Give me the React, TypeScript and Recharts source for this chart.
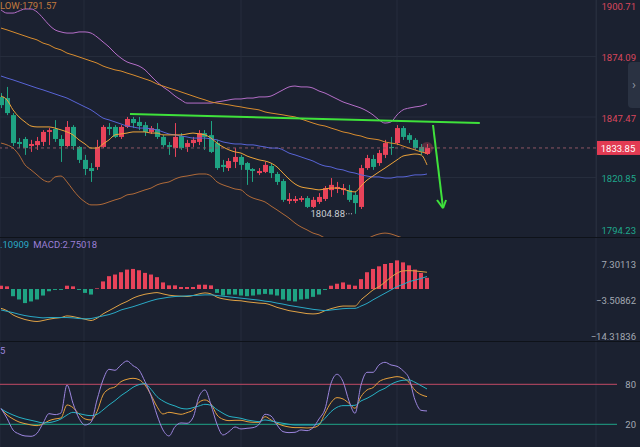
import React from 'react';
import {
  ComposedChart,
  Line,
  Bar,
  XAxis,
  YAxis,
  CartesianGrid,
  ReferenceLine,
  ReferenceDot,
  Cell,
} from 'recharts';

// ---------- data ----------
const open = [1856.3, 1855.8, 1848.3, 1836.5, 1837.8, 1834.7, 1835.1, 1836.5, 1840.9, 1842.2,
  1837.8, 1834.7, 1843.1, 1834.3, 1828.6, 1825.0, 1825.5, 1834.3, 1843.1, 1843.1,
  1838.7, 1843.1, 1846.6, 1845.3, 1843.9, 1840.9, 1842.2, 1838.7, 1835.1, 1833.8,
  1839.1, 1834.3, 1836.0, 1836.5, 1840.4, 1839.5, 1836.0, 1826.4, 1825.0, 1827.7,
  1829.9, 1827.2, 1824.6, 1822.8, 1823.3, 1825.9, 1822.4, 1819.3, 1810.5, 1810.5,
  1811.0, 1811.8, 1807.9, 1810.1, 1811.4, 1815.3, 1815.8, 1815.3, 1815.3, 1813.2,
  1807.9, 1825.0, 1829.0, 1827.2, 1830.8, 1834.3, 1836.0, 1842.6, 1839.5, 1837.4,
  1834.3, 1831.2];
const close = [1852.7, 1849.2, 1836.0, 1835.6, 1833.8, 1835.6, 1836.9, 1840.9, 1841.7, 1837.8,
  1834.7, 1843.1, 1834.7, 1828.6, 1824.6, 1823.7, 1834.3, 1843.1, 1842.2, 1838.7,
  1843.1, 1846.6, 1844.8, 1843.5, 1840.9, 1842.6, 1838.7, 1835.1, 1834.3, 1838.7,
  1833.8, 1836.0, 1837.4, 1840.4, 1838.7, 1832.1, 1825.0, 1825.5, 1828.1, 1829.9,
  1826.4, 1824.2, 1823.7, 1823.7, 1826.4, 1822.8, 1818.9, 1811.0, 1811.4, 1811.4,
  1811.8, 1807.9, 1811.0, 1812.3, 1816.2, 1817.6, 1816.7, 1816.2, 1811.0, 1809.6,
  1825.0, 1829.4, 1825.5, 1831.6, 1836.0, 1833.8, 1842.6, 1838.7, 1837.4, 1833.8,
  1832.1, 1833.85];
const high = [1858.0, 1860.7, 1849.2, 1838.2, 1838.7, 1837.4, 1838.7, 1841.7, 1842.6, 1846.1,
  1839.5, 1845.7, 1843.9, 1834.7, 1830.8, 1827.2, 1837.4, 1843.9, 1844.8, 1843.9,
  1843.9, 1847.5, 1847.5, 1847.5, 1845.3, 1843.5, 1844.8, 1839.5, 1836.5, 1844.8,
  1840.4, 1837.4, 1838.7, 1841.7, 1841.7, 1845.7, 1837.4, 1828.6, 1829.4, 1833.8,
  1830.8, 1827.7, 1825.0, 1825.0, 1827.7, 1827.2, 1823.3, 1820.2, 1814.0, 1812.7,
  1812.7, 1812.7, 1812.3, 1814.0, 1817.1, 1820.6, 1818.9, 1818.0, 1817.6, 1814.5,
  1826.4, 1830.8, 1830.8, 1833.0, 1837.4, 1838.7, 1843.9, 1843.5, 1840.4, 1838.2,
  1835.6, 1835.6];
const low = [1851.4, 1848.3, 1834.7, 1833.8, 1830.8, 1832.1, 1833.0, 1834.7, 1835.1, 1836.5,
  1827.7, 1834.3, 1833.0, 1827.2, 1821.9, 1818.9, 1824.2, 1833.8, 1839.5, 1838.2,
  1837.8, 1842.6, 1842.6, 1841.7, 1839.1, 1840.0, 1837.8, 1834.3, 1830.8, 1829.9,
  1833.0, 1832.1, 1834.3, 1835.1, 1833.0, 1831.6, 1824.2, 1823.3, 1823.7, 1825.0,
  1824.2, 1817.6, 1818.9, 1821.9, 1822.8, 1820.6, 1817.6, 1810.1, 1809.2, 1809.6,
  1810.1, 1807.4, 1807.4, 1809.2, 1810.5, 1812.3, 1814.0, 1813.2, 1810.1, 1804.88,
  1807.0, 1824.2, 1824.2, 1826.0, 1829.4, 1830.8, 1835.1, 1837.4, 1836.0, 1833.0,
  1830.8, 1830.8];

const bollUpper = [1894.6, 1893.2, 1893.2, 1894.1, 1895.0, 1895.0, 1893.7, 1891.0, 1888.0, 1885.8,
  1884.9, 1884.4, 1884.4, 1884.9, 1884.9, 1884.4, 1882.7, 1880.5, 1878.3, 1875.6,
  1873.4, 1871.7, 1870.8, 1869.9, 1868.2, 1865.5, 1862.9, 1860.7, 1858.9, 1856.7,
  1855.0, 1853.6, 1853.6, 1853.6, 1853.6, 1853.6, 1854.1, 1854.5, 1855.0, 1855.4,
  1855.4, 1855.8, 1855.8, 1856.3, 1856.3, 1856.7, 1858.0, 1859.4, 1860.7, 1861.1,
  1860.7, 1860.7, 1860.2, 1858.9, 1858.0, 1856.7, 1855.4, 1854.1, 1853.2, 1852.3,
  1851.4, 1850.1, 1848.4, 1846.2, 1844.8, 1845.3, 1848.4, 1850.6, 1851.4, 1851.9,
  1852.3, 1853.2];
const bollMid = [1865.5, 1864.6, 1863.8, 1862.9, 1862.0, 1861.1, 1860.2, 1859.4, 1858.5, 1857.6,
  1856.7, 1855.8, 1854.5, 1853.2, 1851.9, 1850.6, 1848.8, 1847.0, 1846.2, 1845.3,
  1844.4, 1843.5, 1843.1, 1842.6, 1842.6, 1842.2, 1841.8, 1840.9, 1840.0, 1839.6,
  1839.1, 1838.7, 1838.2, 1838.2, 1838.2, 1837.8, 1837.4, 1836.5, 1836.0, 1835.6,
  1835.6, 1835.2, 1835.2, 1834.7, 1834.3, 1833.8, 1833.8, 1833.0, 1831.6, 1830.8,
  1829.9, 1829.0, 1828.1, 1826.8, 1825.9, 1825.5, 1824.6, 1824.2, 1823.3, 1822.8,
  1822.0, 1821.5, 1821.1, 1821.1, 1820.6, 1820.6, 1821.1, 1821.1, 1821.5, 1822.0,
  1822.0, 1822.4];
const bollLower = [1836.0, 1835.2, 1833.8, 1830.8, 1826.4, 1824.2, 1822.0, 1819.8, 1818.9, 1821.1,
  1821.5, 1818.9, 1815.4, 1812.3, 1810.1, 1808.8, 1808.8, 1809.2, 1810.1, 1811.0,
  1811.8, 1813.2, 1813.6, 1814.5, 1815.4, 1816.2, 1817.6, 1818.4, 1818.9, 1820.2,
  1821.1, 1821.5, 1822.0, 1822.4, 1822.4, 1821.5, 1818.9, 1817.6, 1816.7, 1815.8,
  1815.4, 1813.2, 1811.8, 1811.0, 1810.1, 1808.3, 1806.6, 1804.8, 1803.0, 1800.8,
  1799.1, 1797.8, 1796.4, 1795.6, 1794.2, 1793.4, 1792.5, 1792.0, 1791.6, 1791.6,
  1792.5, 1793.8, 1795.1, 1796.0, 1796.4, 1796.0, 1795.1, 1794.2, 1793.4, 1792.5,
  1792.0, 1791.57];
const maFast = [1856.7, 1855.0, 1850.6, 1847.5, 1845.3, 1843.5, 1843.1, 1843.1, 1843.1, 1842.6,
  1841.8, 1840.9, 1839.6, 1837.4, 1835.6, 1833.8, 1833.8, 1835.6, 1837.4, 1839.6,
  1840.0, 1840.4, 1840.9, 1840.9, 1840.9, 1840.4, 1840.4, 1839.6, 1839.6, 1839.6,
  1839.6, 1840.0, 1840.4, 1840.0, 1839.6, 1838.2, 1836.0, 1834.3, 1833.0, 1832.1,
  1831.6, 1830.3, 1829.4, 1828.6, 1828.1, 1827.2, 1825.5, 1822.8, 1820.2, 1818.0,
  1816.7, 1816.2, 1815.8, 1815.4, 1815.8, 1816.2, 1816.2, 1815.8, 1814.9, 1814.5,
  1817.1, 1819.7, 1821.5, 1823.3, 1825.0, 1826.8, 1828.6, 1830.3, 1830.8, 1831.2,
  1830.8, 1826.4];
const maSlow = [1886.6, 1885.8, 1884.9, 1884.0, 1883.1, 1882.2, 1881.4, 1880.0, 1879.2, 1877.8,
  1877.0, 1875.6, 1874.8, 1873.9, 1873.0, 1872.1, 1871.2, 1869.9, 1869.0, 1868.2,
  1867.7, 1866.8, 1866.0, 1865.1, 1864.2, 1863.3, 1862.0, 1861.1, 1860.2, 1859.4,
  1858.5, 1857.6, 1856.7, 1855.8, 1855.0, 1854.1, 1853.6, 1853.2, 1852.8, 1852.3,
  1851.9, 1851.4, 1851.0, 1850.6, 1849.7, 1849.2, 1848.8, 1848.4, 1847.9, 1847.5,
  1846.6, 1845.7, 1844.8, 1844.0, 1843.5, 1842.6, 1841.8, 1840.9, 1840.4, 1839.6,
  1839.1, 1838.2, 1837.8, 1837.4, 1836.5, 1836.0, 1835.6, 1834.7, 1833.8, 1833.0,
  1832.1, 1831.6];

const dif = [-5.9, -6.6, -7.9, -8.7, -9.3, -9.7, -9.9, -9.6, -9.2, -8.9,
  -8.7, -8.2, -8.4, -8.8, -9.2, -9.6, -8.9, -7.6, -6.6, -5.6,
  -4.6, -3.8, -2.8, -2.1, -1.6, -1.3, -1.1, -1.5, -1.9, -2.1,
  -2.2, -2.3, -2.0, -1.5, -1.2, -1.5, -2.5, -3.0, -3.3, -3.5,
  -3.6, -3.9, -4.1, -4.3, -4.4, -4.9, -5.6, -6.1, -6.6, -6.9,
  -7.2, -7.5, -7.6, -7.4, -6.6, -6.0, -5.5, -5.2, -5.2, -5.2,
  -3.3, -1.8, -0.3, 0.7, 2.1, 3.6, 4.8, 5.5, 5.6, 5.5,
  5.3, 5.1];
const dea = [-6.4, -6.8, -7.2, -7.7, -8.1, -8.4, -8.6, -8.8, -8.7, -8.7,
  -8.7, -8.7, -8.8, -9.0, -9.1, -9.0, -8.6, -8.2, -7.8, -7.2,
  -6.4, -5.9, -5.4, -4.8, -4.2, -3.6, -3.1, -2.8, -2.5, -2.3,
  -2.2, -2.1, -2.0, -1.9, -1.8, -1.8, -2.0, -2.2, -2.4, -2.6,
  -2.8, -3.0, -3.2, -3.4, -3.7, -3.9, -4.3, -4.6, -5.0, -5.3,
  -5.6, -5.9, -6.2, -6.4, -6.6, -6.4, -6.2, -6.0, -5.9, -5.9,
  -5.2, -4.4, -3.3, -2.3, -1.3, -0.3, 0.7, 1.4, 2.2, 2.7,
  3.2, 3.8];
const macdHist = [1.0, 0.8, -2.2, -3.2, -4.3, -3.8, -3.2, -2.0, -0.7, -0.3,
  -0.3, 1.0, 0.8, -0.3, -1.2, -1.7, 0.2, 2.3, 3.9, 4.4,
  5.1, 5.9, 6.1, 5.7, 4.9, 4.4, 3.6, 2.0, 1.1, 1.1,
  0.6, 0.6, 0.6, 1.3, 1.3, 1.1, -1.2, -2.0, -1.7, -1.7,
  -2.0, -2.2, -2.0, -1.7, -1.5, -1.7, -2.0, -3.2, -3.6, -3.8,
  -3.2, -3.0, -2.4, -1.7, -0.3, 1.0, 1.6, 2.0, 1.3, 1.0,
  3.0, 5.1, 6.1, 6.9, 7.6, 7.9, 8.7, 8.1, 7.2, 5.9,
  4.9, 3.4];

const kdjK = [43, 34, 28, 23.5, 21, 19, 18, 20.5, 25.5, 28,
  29.5, 49, 45, 35.5, 28, 26.5, 39, 64, 73, 76,
  84, 87.5, 89, 87, 79, 64, 46.5, 35.5, 38, 36.5,
  35, 37.5, 41.5, 53, 56.5, 50.5, 34, 27.5, 25.5, 26,
  26, 24, 23, 23, 31.5, 26.5, 21.5, 18, 16, 15,
  15, 14.5, 15, 19, 36.5, 52.5, 60, 58, 51.5, 44,
  61.5, 71.5, 75, 84, 88, 90, 91.5, 89.5, 83, 71,
  64.5, 61.5];
const kdjD = [43, 38, 34, 30.5, 28, 26, 24, 22, 22.5, 24.5,
  28, 34, 38, 36, 34, 33, 35, 41.5, 49, 55.5,
  63, 69, 75.5, 79.5, 81, 72.5, 61.5, 55, 50.5, 47.5,
  44, 43, 45, 47.5, 50, 48.5, 42, 36.5, 32, 30.5,
  29, 26.5, 25, 24, 26.5, 25, 23, 21.5, 20, 19,
  19, 19, 19, 21, 29, 39, 45.5, 48, 48, 48.5,
  55, 59, 64, 70, 74, 80, 84, 86, 86.5, 83,
  78, 73];
const kdjJ = [44, 29, 11.5, 5.5, 2.5, 2, 6.5, 21.5, 36, 34.5,
  37, 79, 51.5, 29, 19, 23, 56.5, 86.5, 102.5, 101,
  109, 115, 108, 101.5, 84, 63, 34, 11.5, 2.5, 16.5,
  22, 21.5, 30, 61.5, 71.5, 49, 20, 4, 9, 16,
  13, 14, 15, 20, 35, 32.5, 19, 9, 7.5, 8,
  11.5, 10.5, 15, 28, 43, 81.5, 95, 84, 55, 36.5,
  79, 98, 98, 109, 113, 109, 107, 100.5, 89, 56.5,
  41, 40];

const priceTicks = [1794.23, 1820.85, 1847.47, 1874.09, 1900.71];
const currentPrice = 1833.85;
const lowMark = { i: 59, price: 1804.88 };
const macdTicks = [-14.31836, -3.50862, 7.30113];
const macdHeader = { dea: '.10909', macd: 'MACD:2.75018' };
const kdjHeader = '5';
const kdjLevels = [20, 80];
const timeGrid = [13.83, 40, 66];
const resistance = [{ x: 21.5, y: 1848.8 }, { x: 79.8, y: 1844.8 }];
const arrowShaft = [{ x: 72.0, y: 1843.95 }, { x: 73.67, y: 1807.4 }];
const arrowLeft = [{ x: 72.67, y: 1810.95 }, { x: 73.67, y: 1807.4 }];
const arrowRight = [{ x: 74.17, y: 1810.95 }, { x: 73.67, y: 1807.4 }];

// ---------- style ----------
const BG = '#1b2130';
const GRID = '#262d3c';
const UP = '#e8435a';
const DOWN = '#1fa383';
const FONT = 'Roboto, "Noto Sans", sans-serif';
const X_DOMAIN: [number, number] = [-1 / 6, 99 + 1 / 6];

const rows = open.map((o, i) => ({
  i,
  range: [low[i], high[i]],
  open: o,
  close: close[i],
  high: high[i],
  low: low[i],
  upper: bollUpper[i],
  mid: bollMid[i],
  lower: bollLower[i],
  fast: maFast[i],
  slow: maSlow[i],
  dif: dif[i],
  dea: dea[i],
  hist: macdHist[i],
  k: kdjK[i],
  d: kdjD[i],
  j: kdjJ[i],
}));

const Candle = (props: any) => {
  const { x, y, width, height, payload } = props;
  if (x == null || y == null) return null;
  const top = Math.min(y, y + height);
  const h = Math.abs(height);
  const span = payload.high - payload.low;
  const toY = (v: number) => top + (span === 0 ? 0 : ((payload.high - v) / span) * h);
  const up = payload.close >= payload.open;
  const color = up ? UP : DOWN;
  const cx = Math.round(x + width / 2) + 0.5;
  const bTop = toY(Math.max(payload.open, payload.close));
  const bBot = toY(Math.min(payload.open, payload.close));
  return (
    <g>
      <line x1={cx} x2={cx} y1={top} y2={top + h} stroke={color} strokeWidth={1} />
      <rect x={cx - 2.5} y={bTop} width={5} height={Math.max(1, bBot - bTop)} fill={color} />
    </g>
  );
};

const PriceTick = (props: any) => {
  const { y, payload } = props;
  const v = payload.value as number;
  const yy = Math.min(Math.max(y + 1, 10), 234);
  return (
    <text x={636} y={yy} textAnchor="end" dominantBaseline="central"
      fill={v > currentPrice ? '#d9475d' : '#1fa88c'} fontSize={9.5} fontFamily={FONT}>
      {v.toFixed(2)}
    </text>
  );
};

const GrayTick = (props: any) => {
  const { y, payload } = props;
  const v = payload.value as number;
  const txt = Number.isInteger(v) ? String(v) : v.toFixed(5);
  return (
    <text x={636} y={y} textAnchor="end" dominantBaseline="central"
      fill="#a3a9b3" fontSize={9.5} fontFamily={FONT}>
      {txt.replace('-', '\u2212')}
    </text>
  );
};

const PriceTag = (props: any) => {
  const vb = props.viewBox || {};
  const y = vb.y ?? 0;
  const x = (vb.x ?? 0) + (vb.width ?? 596);
  return (
    <g>
      <rect x={x} y={y - 7} width={44} height={14} fill="#e23b53" />
      <text x={x + 22} y={y + 0.5} textAnchor="middle" dominantBaseline="central" fill="#ffffff"
        fontSize={9.5} fontFamily={FONT}>{currentPrice.toFixed(2)}</text>
    </g>
  );
};

const LowLabel = (props: any) => {
  const { cx, cy } = props;
  if (cx == null) return null;
  return (
    <g>
      <line x1={cx - 9} x2={cx - 2} y1={cy} y2={cy} stroke="#b9bec6" strokeWidth={1} strokeDasharray="1 1.5" />
      <text x={cx - 10} y={cy} textAnchor="end" dominantBaseline="central" fill="#c9cdd3"
        fontSize={9.5} fontFamily={FONT}>{lowMark.price.toFixed(2)}</text>
    </g>
  );
};

const Glow = (props: any) => {
  const { cx, cy } = props;
  if (cx == null) return null;
  return <circle cx={cx} cy={cy} r={6} fill="rgba(240,80,100,0.28)" />;
};

const noMargin = { top: 0, right: 0, bottom: 0, left: 0 };

export default function App() {
  return (
    <div style={{ position: 'absolute', left: 0, top: 0, width: 640, height: 447, background: BG, overflow: 'hidden', fontFamily: FONT }}>
      {/* main price panel */}
      <div style={{ position: 'absolute', left: 0, top: -4 }}>
        <ComposedChart width={640} height={242} data={rows} margin={noMargin}>
          <CartesianGrid stroke={GRID} />
          <XAxis type="number" dataKey="i" domain={X_DOMAIN} ticks={timeGrid} hide allowDataOverflow />
          <YAxis orientation="right" width={44} domain={[priceTicks[0], priceTicks[4]]} ticks={priceTicks}
            allowDataOverflow axisLine={false} tickLine={false} interval={0} tick={<PriceTick />} />
          <ReferenceLine y={currentPrice} stroke="#8e5563" strokeDasharray="3 3" label={<PriceTag />} />
          <Line dataKey="upper" stroke="#b56ec8" strokeWidth={1} dot={false} type="monotone" isAnimationActive={false} />
          <Line dataKey="lower" stroke="#b06a38" strokeWidth={1} dot={false} type="monotone" isAnimationActive={false} />
          <Line dataKey="mid" stroke="#5864d6" strokeWidth={1} dot={false} type="monotone" isAnimationActive={false} />
          <Line dataKey="slow" stroke="#d88c2e" strokeWidth={1} dot={false} type="monotone" isAnimationActive={false} />
          <Line dataKey="fast" stroke="#eea43a" strokeWidth={1} dot={false} type="monotone" isAnimationActive={false} />
          <Bar dataKey="range" barSize={5} shape={<Candle />} isAnimationActive={false} />
          <ReferenceDot x={71} y={close[71]} shape={<Glow />} />
          <ReferenceDot x={lowMark.i} y={lowMark.price} shape={<LowLabel />} />
          <ReferenceLine segment={resistance} stroke="#3fe23b" strokeWidth={2} ifOverflow="visible" />
          <ReferenceLine segment={arrowShaft} stroke="#3fe23b" strokeWidth={2} ifOverflow="visible" />
          <ReferenceLine segment={arrowLeft} stroke="#3fe23b" strokeWidth={2} ifOverflow="visible" />
          <ReferenceLine segment={arrowRight} stroke="#3fe23b" strokeWidth={2} ifOverflow="visible" />
        </ComposedChart>
      </div>
      <div style={{ position: 'absolute', left: 596, top: 0, width: 1, height: 238, background: GRID }} />
      <div style={{ position: 'absolute', left: 0, top: 1, fontSize: 9.5, lineHeight: '10px', color: '#c27b3e', whiteSpace: 'nowrap' }}>
        {`LOW:${bollLower[bollLower.length - 1].toFixed(2)}`}
      </div>
      <div style={{ position: 'absolute', left: 628, top: 62, width: 12, height: 46, background: '#2a3242', borderRadius: '4px 0 0 4px', color: '#8f97a4', fontSize: 13, lineHeight: '46px', textAlign: 'center' }}>›</div>

      {/* MACD panel */}
      <div style={{ position: 'absolute', left: 0, top: 238 }}>
        <ComposedChart width={640} height={103} data={rows} margin={noMargin}>
          <CartesianGrid stroke={GRID} horizontal={false} />
          <XAxis type="number" dataKey="i" domain={X_DOMAIN} ticks={timeGrid} hide allowDataOverflow />
          <YAxis orientation="right" width={44} domain={[-15.84, 15.52]} ticks={macdTicks}
            allowDataOverflow axisLine={false} tickLine={false} interval={0} tick={<GrayTick />} />
          <Bar dataKey="hist" barSize={4} isAnimationActive={false}>
            {rows.map((r) => (
              <Cell key={r.i} fill={r.hist >= 0 ? UP : DOWN} />
            ))}
          </Bar>
          <Line dataKey="dif" stroke="#e0a245" strokeWidth={1} dot={false} type="monotone" isAnimationActive={false} />
          <Line dataKey="dea" stroke="#2aa9c6" strokeWidth={1} dot={false} type="monotone" isAnimationActive={false} />
        </ComposedChart>
      </div>
      <div style={{ position: 'absolute', left: 0, top: 240, fontSize: 9.5, lineHeight: '10px', whiteSpace: 'nowrap' }}>
        <span style={{ color: '#2aa9c6' }}>{macdHeader.dea}</span>
        <span style={{ color: '#9a7fd6', marginLeft: 4 }}>{macdHeader.macd}</span>
      </div>

      {/* KDJ panel */}
      <div style={{ position: 'absolute', left: 0, top: 341 }}>
        <ComposedChart width={640} height={106} data={rows} margin={noMargin}>
          <CartesianGrid stroke={GRID} horizontal={false} />
          <XAxis type="number" dataKey="i" domain={X_DOMAIN} ticks={timeGrid} hide allowDataOverflow />
          <YAxis orientation="right" width={44} domain={[-14.05, 144.95]} ticks={kdjLevels}
            allowDataOverflow axisLine={false} tickLine={false} interval={0} tick={<GrayTick />} />
          <ReferenceLine segment={[{ x: X_DOMAIN[0], y: kdjLevels[1] }, { x: 102.67, y: kdjLevels[1] }]}
            stroke="#c24a66" strokeWidth={1} ifOverflow="visible" />
          <ReferenceLine segment={[{ x: X_DOMAIN[0], y: kdjLevels[0] }, { x: 102.67, y: kdjLevels[0] }]}
            stroke="#1ea487" strokeWidth={1} ifOverflow="visible" />
          <Line dataKey="k" stroke="#e6a03c" strokeWidth={1} dot={false} type="monotone" isAnimationActive={false} />
          <Line dataKey="d" stroke="#27b2c4" strokeWidth={1} dot={false} type="monotone" isAnimationActive={false} />
          <Line dataKey="j" stroke="#9d86df" strokeWidth={1} dot={false} type="monotone" isAnimationActive={false} />
        </ComposedChart>
      </div>
      <div style={{ position: 'absolute', left: 0, top: 346, fontSize: 9.5, lineHeight: '10px', color: '#9d86df' }}>{kdjHeader}</div>

      {/* panel separators */}
      <div style={{ position: 'absolute', left: 0, top: 237, width: 640, height: 1, background: '#0e1219' }} />
      <div style={{ position: 'absolute', left: 0, top: 341, width: 640, height: 1, background: '#0e1219' }} />
    </div>
  );
}
